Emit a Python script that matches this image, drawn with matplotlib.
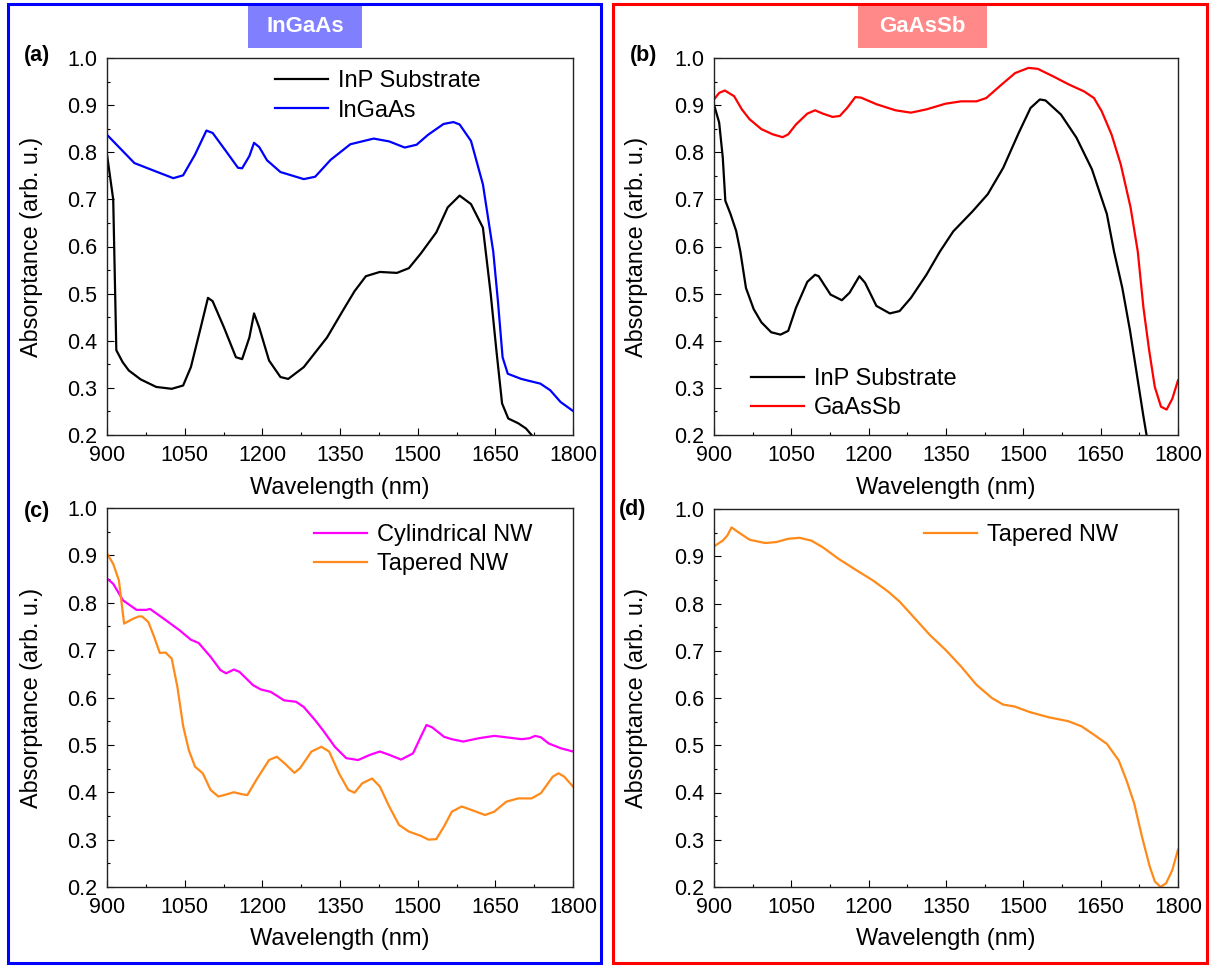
import matplotlib
matplotlib.use("Agg")
import matplotlib.pyplot as plt
from matplotlib.patches import Rectangle
from matplotlib.ticker import MultipleLocator, FormatStrFormatter

plt.rcParams['font.family'] = ['Liberation Sans', 'DejaVu Sans']

W, H = 1210, 966

# ---------------- data ----------------
a_inp_x = [900, 912, 918, 930, 942, 965, 995, 1025, 1047, 1062, 1081, 1095, 1104, 1126, 1149,
           1161, 1175, 1184, 1194, 1213, 1235, 1250, 1280, 1325, 1355, 1378, 1400, 1427,
           1460, 1483, 1506, 1536, 1558, 1581, 1603, 1626, 1641, 1652, 1663, 1675, 1694,
           1709, 1720, 1730]
a_inp_y = [0.795, 0.70, 0.38, 0.355, 0.337, 0.318, 0.302, 0.298, 0.305, 0.344, 0.428, 0.491,
           0.484, 0.428, 0.365, 0.361, 0.407, 0.458, 0.428, 0.358, 0.323, 0.319, 0.344,
           0.407, 0.463, 0.505, 0.537, 0.546, 0.544, 0.554, 0.585, 0.63, 0.683, 0.708,
           0.69, 0.64, 0.50, 0.38, 0.267, 0.235, 0.225, 0.214, 0.20, 0.19]

a_ingaas_x = [900, 953, 995, 1028, 1047, 1070, 1092, 1104, 1130, 1153, 1161, 1175, 1184, 1194,
              1209, 1235, 1280, 1302, 1332, 1370, 1415, 1445, 1475, 1498, 1520, 1550, 1569,
              1581, 1603, 1626, 1646, 1655, 1664, 1674, 1700, 1737, 1756, 1776, 1800]
a_ingaas_y = [0.837, 0.777, 0.759, 0.745, 0.751, 0.795, 0.846, 0.841, 0.802, 0.767, 0.766,
              0.792, 0.820, 0.811, 0.783, 0.758, 0.743, 0.748, 0.784, 0.817, 0.829, 0.823,
              0.810, 0.816, 0.837, 0.860, 0.864, 0.859, 0.824, 0.732, 0.589, 0.484, 0.365,
              0.330, 0.319, 0.309, 0.295, 0.270, 0.251]

b_inp_x = [900, 910, 917, 922, 932, 943, 951, 962, 977, 992, 1011, 1029, 1044, 1059, 1081,
           1096, 1103, 1126, 1148, 1163, 1182, 1193, 1215, 1241, 1260, 1282, 1312, 1338,
           1364, 1401, 1431, 1461, 1491, 1514, 1532, 1543, 1573, 1603, 1633, 1662, 1676,
           1692, 1707, 1722, 1733, 1739, 1745]
b_inp_y = [0.901, 0.863, 0.789, 0.697, 0.669, 0.633, 0.590, 0.512, 0.467, 0.439, 0.418,
           0.413, 0.421, 0.470, 0.525, 0.540, 0.537, 0.498, 0.486, 0.502, 0.537, 0.523,
           0.474, 0.458, 0.463, 0.491, 0.540, 0.589, 0.632, 0.674, 0.711, 0.767, 0.841,
           0.894, 0.912, 0.910, 0.880, 0.831, 0.764, 0.669, 0.589, 0.512, 0.421, 0.316,
           0.239, 0.200, 0.16]

b_gaassb_x = [900, 910, 921, 939, 954, 969, 992, 1014, 1033, 1044, 1059, 1081, 1096, 1111,
              1130, 1144, 1159, 1174, 1185, 1215, 1252, 1282, 1312, 1349, 1379, 1409, 1428,
              1454, 1484, 1510, 1528, 1558, 1588, 1618, 1637, 1652, 1671, 1689, 1708, 1722,
              1733, 1744, 1755, 1767, 1778, 1789, 1800]
b_gaassb_y = [0.912, 0.926, 0.931, 0.919, 0.891, 0.870, 0.849, 0.838, 0.832, 0.838, 0.859,
              0.882, 0.889, 0.882, 0.875, 0.877, 0.895, 0.917, 0.916, 0.902, 0.889, 0.884,
              0.891, 0.903, 0.908, 0.908, 0.915, 0.940, 0.968, 0.979, 0.977, 0.961, 0.944,
              0.929, 0.915, 0.887, 0.838, 0.774, 0.683, 0.589, 0.470, 0.380, 0.302, 0.260,
              0.254, 0.277, 0.316]

c_cyl_x = [900, 912, 931, 957, 976, 983, 1010, 1040, 1062, 1077, 1100, 1119, 1130, 1145, 1156,
           1182, 1197, 1216, 1242, 1265, 1280, 1302, 1317, 1340, 1362, 1385, 1408, 1427,
           1445, 1468, 1491, 1506, 1517, 1528, 1551, 1566, 1588, 1618, 1648, 1671, 1701,
           1716, 1727, 1738, 1753, 1776, 1800]
c_cyl_y = [0.851, 0.840, 0.805, 0.785, 0.785, 0.787, 0.766, 0.742, 0.722, 0.715, 0.686,
           0.658, 0.651, 0.659, 0.654, 0.626, 0.617, 0.612, 0.594, 0.591, 0.580, 0.552,
           0.531, 0.496, 0.472, 0.468, 0.479, 0.486, 0.479, 0.469, 0.482, 0.517, 0.542,
           0.537, 0.517, 0.512, 0.507, 0.514, 0.519, 0.516, 0.512, 0.514, 0.519, 0.516,
           0.503, 0.493, 0.486]

c_tap_x = [900, 912, 923, 933, 950, 961, 968, 980, 991, 1002, 1013, 1025, 1036, 1047, 1058,
           1070, 1085, 1100, 1115, 1126, 1145, 1160, 1171, 1190, 1213, 1228, 1243, 1262,
           1273, 1295, 1314, 1329, 1348, 1366, 1378, 1393, 1412, 1427, 1445, 1464, 1483,
           1506, 1521, 1536, 1551, 1566, 1585, 1603, 1630, 1648, 1671, 1694, 1720, 1738,
           1761, 1772, 1783, 1800]
c_tap_y = [0.904, 0.882, 0.847, 0.756, 0.766, 0.771, 0.771, 0.759, 0.728, 0.694, 0.695,
           0.682, 0.622, 0.540, 0.489, 0.454, 0.440, 0.405, 0.391, 0.394, 0.400, 0.396,
           0.394, 0.429, 0.468, 0.475, 0.461, 0.441, 0.451, 0.486, 0.496, 0.486, 0.440,
           0.405, 0.399, 0.419, 0.429, 0.412, 0.370, 0.331, 0.317, 0.308, 0.300, 0.301,
           0.328, 0.359, 0.370, 0.363, 0.352, 0.359, 0.380, 0.387, 0.387, 0.398, 0.433,
           0.440, 0.433, 0.412]

d_tap_x = [900, 917, 926, 934, 947, 969, 999, 1021, 1044, 1066, 1089, 1111, 1141, 1171, 1208,
           1238, 1260, 1290, 1319, 1349, 1379, 1409, 1439, 1461, 1483, 1513, 1550, 1587,
           1613, 1636, 1662, 1685, 1700, 1715, 1730, 1745, 1755, 1766, 1777, 1789, 1800]
d_tap_y = [0.921, 0.933, 0.944, 0.961, 0.951, 0.935, 0.928, 0.930, 0.937, 0.939, 0.933,
           0.919, 0.895, 0.874, 0.849, 0.825, 0.804, 0.768, 0.733, 0.702, 0.667, 0.628,
           0.600, 0.586, 0.582, 0.570, 0.559, 0.551, 0.540, 0.523, 0.503, 0.468, 0.426,
           0.377, 0.307, 0.244, 0.212, 0.200, 0.208, 0.236, 0.279]

x_ticks = [900, 1050, 1200, 1350, 1500, 1650, 1800]
y_ticks = [0.2, 0.3, 0.4, 0.5, 0.6, 0.7, 0.8, 0.9, 1.0]

C_BLACK = 'black'
C_BLUE = '#0000ff'
C_RED = '#ff0000'
C_MAG = '#ff00ff'
C_ORANGE = '#ff8a1a'

fig = plt.figure(figsize=(W / 100, H / 100), dpi=100)


def px_axes(l, r, t, b):
    return fig.add_axes([l / W, 1 - b / H, (r - l) / W, (b - t) / H])


def style(ax, xl_y, yl_x):
    ax.set_xlim(900, 1800)
    ax.set_ylim(0.2, 1.0)
    ax.set_xticks(x_ticks)
    ax.set_yticks(y_ticks)
    ax.xaxis.set_minor_locator(MultipleLocator(75))
    ax.yaxis.set_minor_locator(MultipleLocator(0.05))
    ax.yaxis.set_major_formatter(FormatStrFormatter('%.1f'))
    ax.tick_params(which='both', direction='in', top=False, right=False,
                   labelsize=15.5, width=0.8)
    ax.tick_params(which='major', length=5, pad=7)
    ax.tick_params(which='minor', length=2.5)
    for s in ax.spines.values():
        s.set_linewidth(1.0)
        s.set_color('#222222')
    ax.set_xlabel('Wavelength (nm)', fontsize=17)
    ax.set_ylabel('Absorptance (arb. u.)', fontsize=16.8)
    ax.xaxis.set_label_coords(0.5, xl_y)
    ax.yaxis.set_label_coords(yl_x, 0.5)


def leg(ax, x, y):
    ax.legend(loc='upper left', bbox_to_anchor=(x, y), frameon=False, fontsize=17,
              handlelength=2.25, handletextpad=0.42, labelspacing=0.3,
              borderaxespad=0, borderpad=0)


lw = 1.6

ax_a = px_axes(107, 573, 58, 435)
ax_a.plot(a_inp_x, a_inp_y, color=C_BLACK, lw=lw, label='InP Substrate')
ax_a.plot(a_ingaas_x, a_ingaas_y, color=C_BLUE, lw=lw, label='InGaAs')
style(ax_a, -0.112, -0.137)
leg(ax_a, 0.3605, 0.967)

ax_b = px_axes(714, 1178, 58, 435)
ax_b.plot(b_inp_x, b_inp_y, color=C_BLACK, lw=lw, label='InP Substrate')
ax_b.plot(b_gaassb_x, b_gaassb_y, color=C_RED, lw=lw, label='GaAsSb')
style(ax_b, -0.112, -0.142)
leg(ax_b, 0.080, 0.178)

ax_c = px_axes(107, 573, 508, 887)
ax_c.plot(c_cyl_x, c_cyl_y, color=C_MAG, lw=lw, label='Cylindrical NW')
ax_c.plot(c_tap_x, c_tap_y, color=C_ORANGE, lw=lw, label='Tapered NW')
style(ax_c, -0.108, -0.137)
leg(ax_c, 0.444, 0.957)

ax_d = px_axes(714, 1178, 509, 887)
ax_d.plot(d_tap_x, d_tap_y, color=C_ORANGE, lw=lw, label='Tapered NW')
style(ax_d, -0.108, -0.142)
leg(ax_d, 0.453, 0.959)

# panel letters
for txt, xp, yp in [('(a)', 37, 55), ('(b)', 644, 55), ('(c)', 37, 512), ('(d)', 633, 510)]:
    fig.text(xp / W, 1 - yp / H, txt, fontsize=15.5, fontweight='bold', ha='center', va='center')


def frame_box(l, r, t, b, color):
    fig.patches.append(Rectangle((l / W, 1 - b / H), (r - l) / W, (b - t) / H, fill=False,
                                 edgecolor=color, linewidth=2.2, transform=fig.transFigure,
                                 figure=fig))


def title_box(l, r, t, b, color, text):
    fig.patches.append(Rectangle((l / W, 1 - b / H), (r - l) / W, (b - t) / H, fill=True,
                                 facecolor=color, edgecolor='none', transform=fig.transFigure,
                                 figure=fig))
    fig.text((l + r) / 2 / W, 1 - (t + b) / 2 / H, text, color='white', fontsize=16,
             fontweight='bold', ha='center', va='center')


frame_box(8, 601, 4, 963, C_BLUE)
frame_box(613, 1207, 4, 963, C_RED)
title_box(248, 362, 6, 48, '#8080ff', 'InGaAs')
title_box(858, 987, 6, 48, '#ff8888', 'GaAsSb')

fig.savefig('out.png', dpi=100)
